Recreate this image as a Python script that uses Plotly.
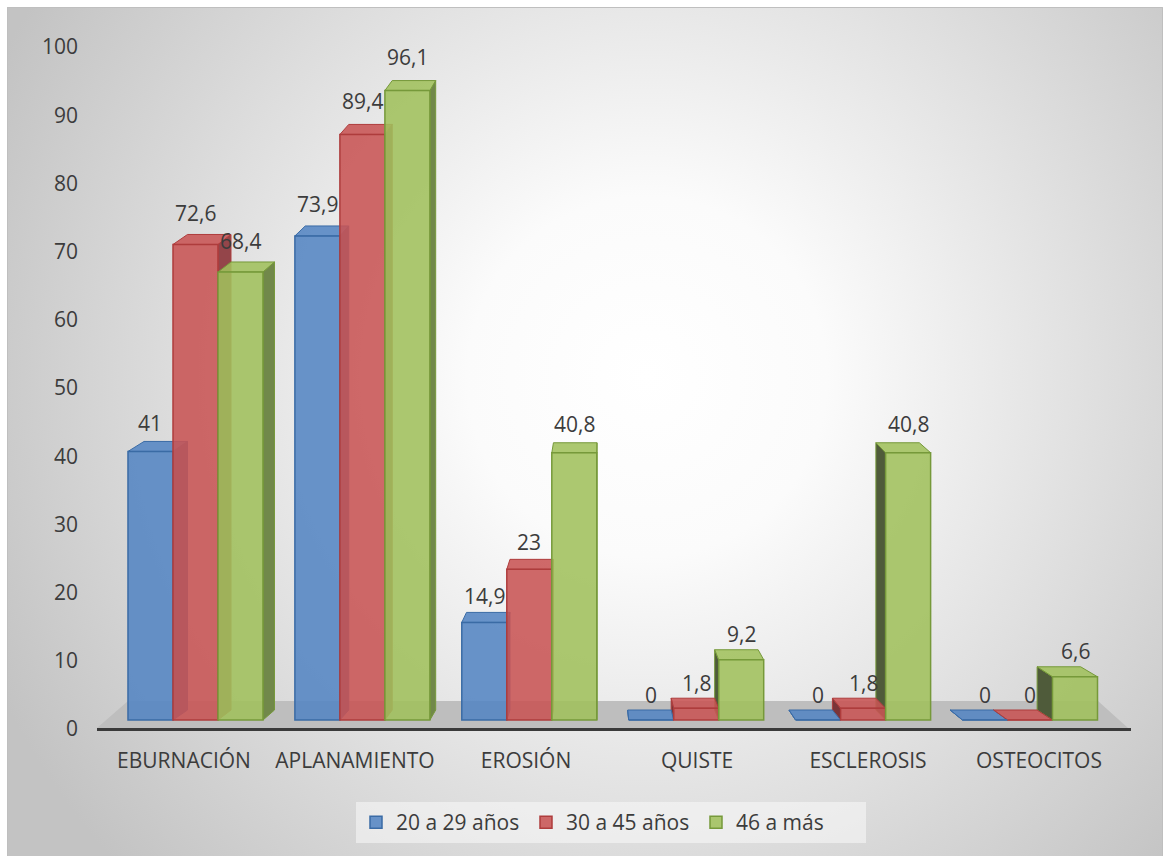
import base64
import plotly.graph_objects as go

# ---- data -------------------------------------------------------------
categories = ["EBURNACIÓN", "APLANAMIENTO", "EROSIÓN", "QUISTE", "ESCLEROSIS", "OSTEOCITOS"]
series_names = ["20 a 29 años", "30 a 45 años", "46 a más"]
age_20_29 = [41, 73.9, 14.9, 0, 0, 0]
age_30_45 = [72.6, 89.4, 23, 1.8, 1.8, 0]
age_46_plus = [68.4, 96.1, 40.8, 9.2, 40.8, 6.6]
y_tick_values = list(range(0, 101, 10))

series_values = [age_20_29, age_30_45, age_46_plus]

# ---- styling ----------------------------------------------------------
front_fill = ["rgba(84,133,195,0.88)", "rgba(200,84,84,0.88)", "rgba(160,192,92,0.88)"]
edge_color = ["#3A6BA5", "#AE3C3C", "#76993A"]
side_right = ["#46699A", "#94454A", "#71884A"]
side_left = ["#3A5680", "#7A3539", "#4F5B3A"]
text_color = "#3C3C3C"
FONT = "Open Sans"
FS = 21

# ---- geometry ---------------------------------------------------------
W, H = 1163, 856
L, R, T, B = 100, 1135, 40, 735          # plot area (px)
BX0, BXS = 195.5, 166.9                  # bar groups: centre of first group, spacing (px)
BY0, BYS = 720, 6.55                     # bars: baseline px, px per unit
LX0, LXS = 184, 171                      # category labels: first centre, spacing (px)
LY0, LYS = 729, 6.82                     # value scale labels: zero px, px per unit
BARGAP = 0.191
n_series = len(series_values)
bar_w = (1 - BARGAP) / n_series
group_w = 1 - BARGAP

x_range = [(L - BX0) / BXS, (R - BX0) / BXS]
y_range = [-(B - BY0) / BYS, (BY0 - T) / BYS]
x2_range = [(L - LX0) / LXS, (R - LX0) / LXS]
y2_range = [-(B - LY0) / LYS, (LY0 - T) / LYS]

# simple perspective: receding edges converge towards a point near the middle
DEPTH = 0.034
x_vanish = (600 - BX0) / BXS
depth_dy = 10 / BYS


def back(x):
    return x + DEPTH * (x_vanish - x)


def paper_x(px):
    return (px - L) / (R - L)


def paper_y(py):
    return (B - py) / (B - T)


positions = list(range(len(categories)))

fig = go.Figure()

# front faces
for i, (name, vals) in enumerate(zip(series_names, series_values)):
    fig.add_trace(go.Bar(
        x=positions, y=vals, name=name,
        marker=dict(color=front_fill[i], line=dict(color=edge_color[i], width=1.5)),
        customdata=categories,
        hovertemplate="%{customdata}<br>" + name + ": %{y}<extra></extra>",
    ))

# axes used for the tick labels
fig.add_trace(go.Scatter(x=[None], y=[None], xaxis="x2", yaxis="y2",
                         showlegend=False, hoverinfo="skip"))

shapes = []

# floor and base line
floor = (f"M{paper_x(97)},{paper_y(728)} L{paper_x(128)},{paper_y(701)} "
         f"L{paper_x(1098)},{paper_y(701)} L{paper_x(1128)},{paper_y(728)} Z")
shapes.append(dict(type="path", xref="paper", yref="paper", path=floor,
                   fillcolor="#BEBEBE", line=dict(width=0), layer="below"))
shapes.append(dict(type="line", xref="paper", yref="paper",
                   x0=paper_x(97), x1=paper_x(1131), y0=paper_y(729.5), y1=paper_y(729.5),
                   line=dict(color="#3A3A3A", width=3), layer="below"))

side_shapes, top_shapes = [], []
for i, vals in enumerate(series_values):
    for k, v in enumerate(vals):
        x0 = k - group_w / 2 + i * bar_w
        x1 = x0 + bar_w
        if x1 < x_vanish:
            xs, col = x1, side_right[i]
        else:
            xs, col = x0, side_left[i]
        side_shapes.append(dict(
            type="path", xref="x", yref="y", layer="below",
            path=f"M{xs},0 L{xs},{v} L{back(xs)},{v + depth_dy} L{back(xs)},{depth_dy} Z",
            fillcolor=col, line=dict(color=edge_color[i], width=1)))
        top_shapes.append(dict(
            type="path", xref="x", yref="y", layer="below",
            path=(f"M{x0},{v} L{x1},{v} L{back(x1)},{v + depth_dy} "
                  f"L{back(x0)},{v + depth_dy} Z"),
            fillcolor=front_fill[i], line=dict(color=edge_color[i], width=1)))
shapes += side_shapes + top_shapes

# chart frame
shapes.append(dict(type="rect", xref="paper", yref="paper",
                   x0=paper_x(7.5), x1=paper_x(1162.5), y0=paper_y(860), y1=paper_y(7.5),
                   line=dict(color="#BFBFBF", width=1), layer="below"))

# value labels
annotations = []
for i, vals in enumerate(series_values):
    for k, v in enumerate(vals):
        xc = k - group_w / 2 + (i + 0.5) * bar_w
        annotations.append(dict(
            x=xc, y=v, xref="x", yref="y", showarrow=False,
            text=f"{v:g}".replace(".", ","), yanchor="middle", xanchor="center",
            yshift=25 + 0.09 * v, font=dict(family=FONT, size=FS, color=text_color)))

# radial backdrop
svg = (
    '<svg xmlns="http://www.w3.org/2000/svg" width="1156" height="849">'
    '<defs><radialGradient id="g" gradientUnits="userSpaceOnUse" cx="640" cy="370" r="720">'
    '<stop offset="0" stop-color="#FFFFFF"/>'
    '<stop offset="0.25" stop-color="#FBFBFB"/>'
    '<stop offset="1" stop-color="#C3C3C3"/>'
    '</radialGradient></defs>'
    '<rect width="1156" height="849" fill="url(#g)"/></svg>'
)
bg_uri = "data:image/svg+xml;base64," + base64.b64encode(svg.encode()).decode()

fig.update_layout(
    width=W, height=H,
    margin=dict(l=L, r=W - R, t=T, b=H - B, pad=0),
    paper_bgcolor="white", plot_bgcolor="rgba(0,0,0,0)",
    barmode="group", bargap=BARGAP, bargroupgap=0,
    font=dict(family=FONT, size=FS, color=text_color),
    shapes=shapes, annotations=annotations,
    images=[dict(source=bg_uri, xref="paper", yref="paper",
                 x=paper_x(7), y=paper_y(7), sizex=(W - 7) / (R - L), sizey=(H - 7) / (B - T),
                 xanchor="left", yanchor="top", sizing="stretch", layer="below")],
    xaxis=dict(range=x_range, showticklabels=False, showgrid=False, zeroline=False,
               showline=False, ticks=""),
    yaxis=dict(range=y_range, showticklabels=False, showgrid=False, zeroline=False,
               showline=False, ticks=""),
    xaxis2=dict(overlaying="x", side="bottom", range=x2_range, tickmode="array",
                tickvals=positions, ticktext=categories, showgrid=False, zeroline=False,
                showline=False, ticks="", ticklabelstandoff=11,
                tickfont=dict(family=FONT, size=FS, color=text_color)),
    yaxis2=dict(overlaying="y", side="left", anchor="x2", range=y2_range, tickmode="array",
                tickvals=y_tick_values, showgrid=False, zeroline=False, showline=False,
                ticks="", ticklabelstandoff=21,
                tickfont=dict(family=FONT, size=FS, color=text_color)),
    legend=dict(orientation="h", x=paper_x(356), xanchor="left", y=paper_y(802), yanchor="top",
                bgcolor="rgba(250,250,250,0.55)", entrywidth=125, entrywidthmode="pixels",
                font=dict(family=FONT, size=FS, color=text_color), traceorder="normal"),
    hovermode="closest",
)

fig.write_html("out.html")
